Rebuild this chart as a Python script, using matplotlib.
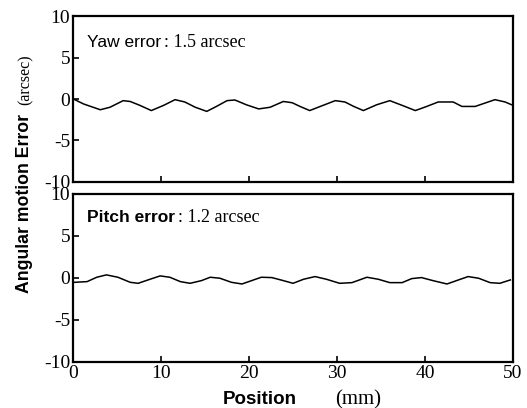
import matplotlib
matplotlib.use("Agg")
import matplotlib.pyplot as plt

plt.rcParams["axes.unicode_minus"] = False

# ---- data ----
yaw_x = [0.2, 1.2, 3.1, 4.2, 5.7, 6.5, 7.6, 8.9, 10.3, 11.6, 12.7, 13.9, 15.2, 16.3,
         17.5, 18.4, 19.7, 21.1, 22.4, 23.9, 24.9, 25.8, 26.9, 28.1, 29.8, 30.9, 31.9,
         33.0, 34.5, 36.0, 37.4, 38.9, 40.2, 41.5, 43.2, 44.2, 45.7, 46.8, 47.95, 49.1, 50.0]
yaw_y = [-0.08, -0.6, -1.3, -1.0, -0.2, -0.3, -0.77, -1.4, -0.77, -0.08, -0.36, -1.0,
         -1.5, -0.9, -0.2, -0.12, -0.7, -1.2, -1.0, -0.3, -0.45, -0.9, -1.4, -0.9, -0.2,
         -0.36, -0.9, -1.4, -0.7, -0.2, -0.77, -1.4, -0.9, -0.36, -0.36, -0.9, -0.9,
         -0.5, -0.08, -0.36, -0.77]

pitch_x = [0.2, 1.6, 2.7, 3.8, 5.1, 6.5, 7.4, 8.75, 9.9, 11.0, 12.2, 13.3, 14.6, 15.6,
           16.7, 18.0, 19.2, 20.3, 21.4, 22.6, 23.9, 25.0, 26.2, 27.5, 28.8, 30.3, 31.7,
           33.4, 34.7, 36.0, 37.4, 38.5, 39.6, 40.9, 42.5, 43.8, 44.9, 46.1, 47.4, 48.5, 49.7]
pitch_y = [-0.54, -0.46, 0.06, 0.34, 0.06, -0.54, -0.66, -0.18, 0.22, 0.06, -0.46, -0.66,
           -0.34, 0.06, -0.06, -0.54, -0.74, -0.34, 0.06, 0.02, -0.34, -0.66, -0.18, 0.14,
           -0.18, -0.66, -0.58, 0.06, -0.18, -0.58, -0.58, -0.1, 0.02, -0.34, -0.74, -0.26,
           0.14, -0.06, -0.58, -0.66, -0.26]

x_ticks = [0, 10, 20, 30, 40, 50]
y_ticks = [-10, -5, 0, 5, 10]

W, H = 527, 408
fig = plt.figure(figsize=(W / 100, H / 100), dpi=100)

def fx(px):
    return px / W

def fy(py):
    return 1 - py / H

left, right = 73, 513
ax1 = fig.add_axes([fx(left), fy(181.6), fx(right - left), (181.6 - 16.4) / H])
ax2 = fig.add_axes([fx(left), fy(362), fx(right - left), (362 - 193.5) / H])

serif = "Liberation Serif"
sans = "Liberation Sans"

for ax, xs, ys in [(ax1, yaw_x, yaw_y), (ax2, pitch_x, pitch_y)]:
    ax.plot(xs, ys, color="black", lw=1.1, solid_joinstyle="round")
    ax.set_xlim(0, 50)
    ax.set_ylim(-10, 10)
    ax.set_xticks(x_ticks)
    ax.set_yticks(y_ticks)
    for sp in ax.spines.values():
        sp.set_linewidth(1.6)
    ax.tick_params(direction="in", length=4, width=1.2, pad=2,
                   top=False, right=False, labelsize=14)
    for lab in ax.get_xticklabels() + ax.get_yticklabels():
        lab.set_fontfamily(serif)

ax1.tick_params(labelbottom=False)

# annotations
def two_part(xpx, ypx, first, second, w1="normal"):
    t1 = fig.text(fx(xpx), fy(ypx), first, fontfamily=sans, fontsize=12.5,
                  fontweight=w1, ha="left", va="baseline")
    fig.canvas.draw()
    bb = t1.get_window_extent()
    fig.text(fx(bb.x1 + 3), fy(ypx), second, fontfamily=serif, fontsize=13,
             ha="left", va="baseline")

two_part(87, 47, "Yaw error", ": 1.5 arcsec")
two_part(87, 222, "Pitch error", ": 1.2 arcsec", w1="bold")

# x label
fig.text(fx(223), fy(404), "Position", fontfamily=sans, fontsize=13.5,
         fontweight="bold", ha="left", va="baseline")
fig.text(fx(335), fy(404), "(mm)", fontfamily=serif, fontsize=15,
         ha="left", va="baseline")

# y label
fig.text(fx(29), fy(293), "Angular motion Error", fontfamily=sans, fontsize=12.7,
         fontweight="bold", rotation=90, rotation_mode="anchor",
         ha="left", va="baseline")
fig.text(fx(30), fy(105), "(arcsec)", fontfamily=serif, fontsize=11.5,
         rotation=90, rotation_mode="anchor", ha="left", va="baseline")

fig.savefig("out.png", dpi=100)
